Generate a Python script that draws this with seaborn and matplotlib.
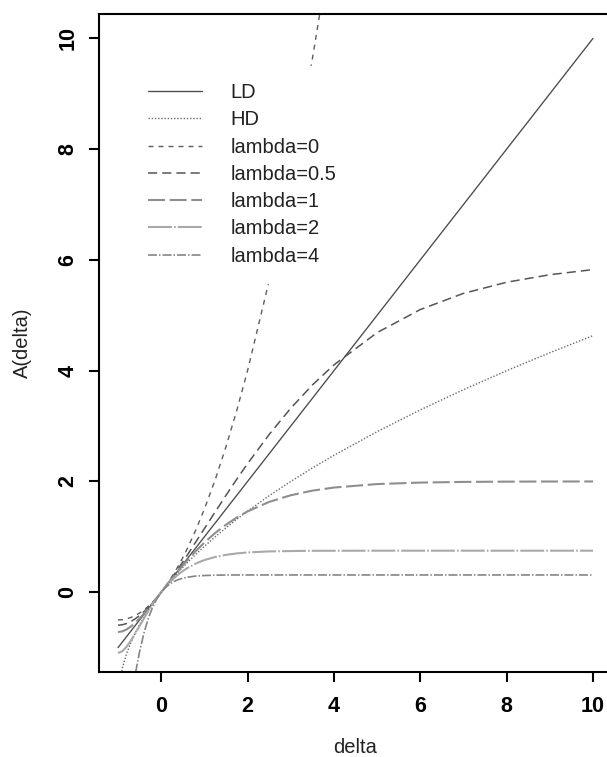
import numpy as np
import pandas as pd
import matplotlib
matplotlib.use("Agg")
import matplotlib.pyplot as plt
import seaborn as sns

# 读图得到的数值（delta 网格和各曲线的 A(delta)）
delta = [-1, -0.9, -0.8, -0.7, -0.6, -0.5, -0.4, -0.3, -0.2, -0.1, 0,
         0.1, 0.2, 0.3, 0.4, 0.5, 0.6, 0.8, 1.0, 1.25, 1.5, 1.75, 2.0,
         2.5, 3.0, 3.5, 4.0, 5, 6, 7, 8, 9, 10]

ld_delta = [-1, 10]
ld_A = [-1, 10]

hd_A = [-2.0, -1.368, -1.106, -0.905, -0.735, -0.586, -0.451, -0.327, -0.211, -0.103, 0.0,
        0.098, 0.191, 0.280, 0.366, 0.449, 0.530, 0.683, 0.828, 1.0, 1.162, 1.317, 1.464,
        1.742, 2.0, 2.243, 2.472, 2.899, 3.292, 3.657, 4.0, 4.325, 4.633]

lam0_A = [-0.5, -0.495, -0.48, -0.455, -0.42, -0.375, -0.32, -0.255, -0.18, -0.095, 0.0,
          0.105, 0.22, 0.345, 0.48, 0.625, 0.78, 1.12, 1.5, 2.031, 2.625, 3.281, 4.0,
          5.625, 7.5, 9.625, 12.0]

lam05_A = [-0.595, -0.587, -0.564, -0.528, -0.479, -0.420, -0.351, -0.274, -0.189, -0.097, 0.0,
           0.102, 0.209, 0.319, 0.433, 0.548, 0.666, 0.906, 1.148, 1.450, 1.749, 2.040, 2.321,
           2.848, 3.322, 3.741, 4.105, 4.687, 5.104, 5.396, 5.597, 5.733, 5.825]

lam1_A = [-0.718, -0.706, -0.671, -0.618, -0.551, -0.473, -0.387, -0.295, -0.199, -0.100, 0.0,
          0.100, 0.199, 0.296, 0.391, 0.484, 0.573, 0.742, 0.896, 1.069, 1.219, 1.348, 1.459,
          1.631, 1.751, 1.834, 1.890, 1.953, 1.980, 1.992, 1.997, 1.999, 2.0]

lam2_A = [-1.097, -1.065, -0.984, -0.872, -0.744, -0.609, -0.474, -0.343, -0.220, -0.105, 0.0,
          0.095, 0.180, 0.256, 0.323, 0.382, 0.434, 0.518, 0.581, 0.637, 0.675, 0.701, 0.718,
          0.737, 0.744, 0.748, 0.749, 0.75, 0.75, 0.75, 0.75, 0.75, 0.75]

lam4_A = [-3.100, -2.890, -2.447, -1.949, -1.479, -1.073, -0.740, -0.476, -0.272, -0.116, 0.0,
          0.086, 0.150, 0.196, 0.229, 0.253, 0.271, 0.292, 0.302, 0.308, 0.311, 0.312, 0.312,
          0.312, 0.312, 0.312, 0.312, 0.312, 0.312, 0.312, 0.312, 0.312, 0.312]

labels = ["LD", "HD", "lambda=0", "lambda=0.5", "lambda=1", "lambda=2", "lambda=4"]
x_ticks = [0, 2, 4, 6, 8, 10]
y_ticks = [0, 2, 4, 6, 8, 10]


def main():
    sns.set_style("ticks")
    plt.rcParams['font.family'] = ['Liberation Sans', 'DejaVu Sans']

    fig = plt.figure(figsize=(6.07, 7.57), dpi=100)
    ax = fig.add_axes([99 / 607, 85 / 757, 513 / 607, 658 / 757])

    curves = [
        (ld_delta, ld_A, '#4a4a4a', 0.95, '-'),
        (delta, hd_A, '#6a6a6a', 1.0, (0, (1.0, 1.3))),
        (delta[:len(lam0_A)], lam0_A, '#5e5e5e', 1.0, (0, (3.6, 3.6))),
        (delta, lam05_A, '#555555', 1.1, (0, (6.0, 3.3))),
        (delta, lam1_A, '#8e8e8e', 1.5, (0, (8.2, 2.2))),
        (delta, lam2_A, '#a9a9a9', 1.5, (0, (11.5, 1.0, 0.8, 1.0))),
        (delta, lam4_A, '#858585', 1.2, (0, (5.4, 1.2, 0.9, 1.2))),
    ]
    for (xs, ys, color, lw, ls), name in zip(curves, labels):
        df = pd.DataFrame({'delta': xs, 'A': ys})
        sns.lineplot(data=df, x='delta', y='A', ax=ax, color=color, lw=lw,
                     linestyle=ls, label=name, errorbar=None, sort=False)

    ax.set_xlim(-1.44, 10.44)
    ax.set_ylim(-1.44, 10.44)
    ax.set_xticks(x_ticks)
    ax.set_yticks(y_ticks)
    ax.set_xticklabels([str(t) for t in x_ticks], fontweight='bold')
    ax.set_yticklabels([str(t) for t in y_ticks], fontweight='bold', rotation=90, va='center')
    ax.tick_params(axis='both', direction='out', length=7.2, width=1.5,
                   labelsize=15.5, colors='black', bottom=True, left=True)
    ax.tick_params(axis='x', pad=10)
    ax.tick_params(axis='y', pad=7.5)
    for side in ['left', 'bottom', 'top']:
        ax.spines[side].set_linewidth(1.5)
        ax.spines[side].set_color('black')
    ax.spines['right'].set_visible(False)

    ax.set_xlabel('delta', fontsize=14.5, color='#222222')
    ax.set_ylabel('A(delta)', fontsize=14.5, color='#222222')
    ax.xaxis.set_label_coords(0.5, -0.1)
    ax.yaxis.set_label_coords(-0.13, 0.5)

    # 图例：白底无边框，遮住 lambda=0 曲线的一段
    leg = ax.legend(loc='upper left', bbox_to_anchor=(131 / 607, 1 - 66 / 757),
                    bbox_transform=fig.transFigure, frameon=True, facecolor='white',
                    edgecolor='white', framealpha=1, fancybox=False, fontsize=14.5,
                    handlelength=2.69, handletextpad=1.39, labelspacing=0.41,
                    borderpad=0.85, borderaxespad=0)
    for t in leg.get_texts():
        t.set_color('#222222')

    fig.savefig('out.png', dpi=100)


if __name__ == "__main__":
    main()
